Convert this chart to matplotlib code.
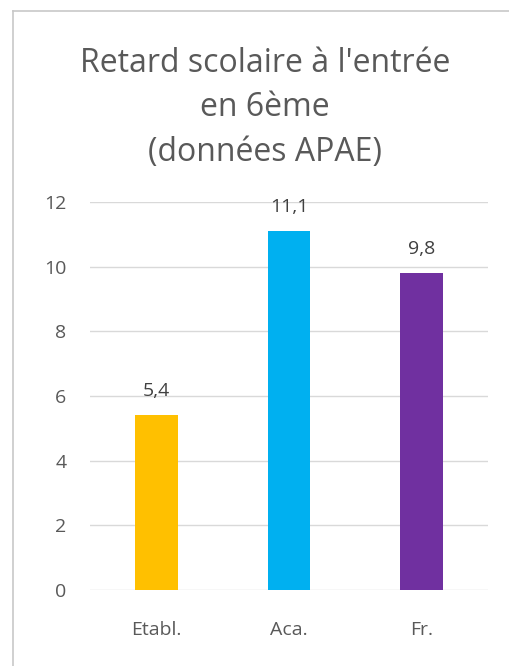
import matplotlib.pyplot as plt
from matplotlib.lines import Line2D

categories = ["Etabl.", "Aca.", "Fr."]
values = [5.4, 11.1, 9.8]
value_labels = ["5,4", "11,1", "9,8"]
colors = ["#FFC000", "#00B0F0", "#7030A0"]

plt.rcParams['font.family'] = ['Open Sans', 'DejaVu Sans']
txt = "#595959"

fig = plt.figure(figsize=(5.1, 6.66), dpi=100)
ax = fig.add_axes([90/510, 1-590/666, 398/510, 388/666])

x = range(len(categories))
ax.bar(x, values, width=0.32, color=colors, zorder=3)
for i, v in enumerate(values):
    ax.text(i, v + 0.6, value_labels[i], ha="center", va="baseline",
            fontsize=14, color="#404040")

ax.set_xlim(-0.5, 2.5)
ax.set_ylim(0, 12)
ax.set_yticks(range(0, 13, 2))
ax.set_xticks(list(x))
ax.set_xticklabels(categories)
ax.tick_params(axis="both", length=0, labelsize=14, colors=txt)
ax.tick_params(axis="x", pad=22)
ax.tick_params(axis="y", pad=17)
ax.grid(axis="y", color="#d9d9d9", linewidth=1, zorder=0)
for s in ax.spines.values():
    s.set_visible(False)

fig.text(265/510, 1-108/666, "Retard scolaire à l'entrée\nen 6ème\n(données APAE)",
         ha="center", va="center", fontsize=23, color=txt, linespacing=1.45)

# chart border (top and left)
fig.add_artist(Line2D([13/510, 1], [1-11/666, 1-11/666], color="#c8c8c8", lw=1.2))
fig.add_artist(Line2D([13/510, 13/510], [0, 1-11/666], color="#c8c8c8", lw=1.2))

plt.savefig("out.png")
